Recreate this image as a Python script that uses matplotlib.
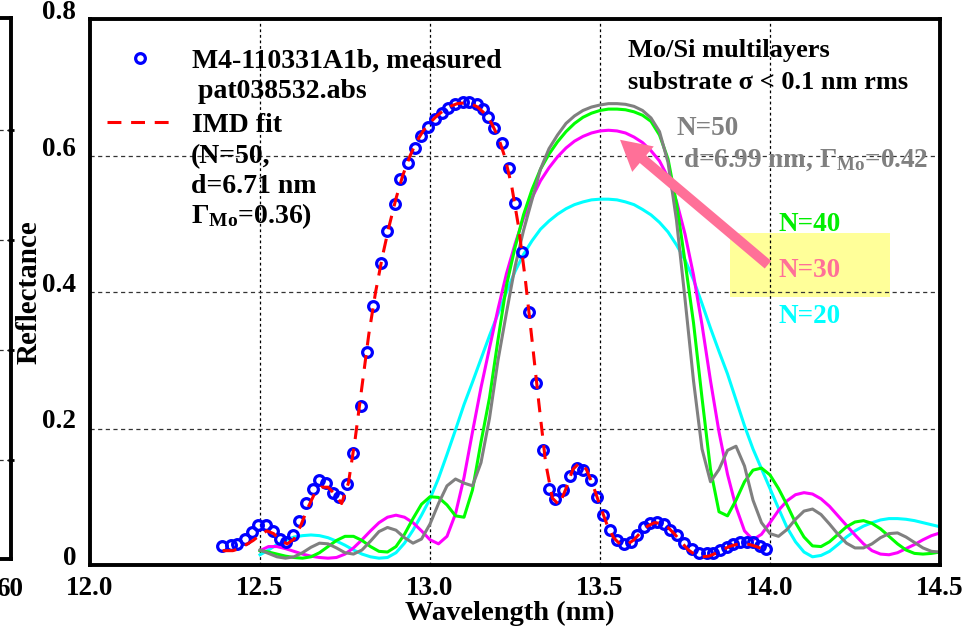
import matplotlib
matplotlib.use("Agg")
import matplotlib.pyplot as plt
import numpy as np
from matplotlib.legend_handler import HandlerLine2D
from matplotlib.patches import Rectangle

plt.rcParams["font.family"] = "Liberation Serif"
plt.rcParams["font.weight"] = "bold"
plt.rcParams["axes.labelweight"] = "bold"
plt.rcParams["mathtext.fontset"] = "custom"
plt.rcParams["mathtext.rm"] = "Liberation Serif:bold"
plt.rcParams["mathtext.it"] = "Liberation Serif:bold"
plt.rcParams["mathtext.bf"] = "Liberation Serif:bold"
plt.rcParams["lines.scale_dashes"] = False

# measured reflectance (M4-110331A1b)
meas_wl = [12.389, 12.414, 12.433, 12.456, 12.476, 12.495, 12.518, 12.537, 12.559, 12.576,
           12.598, 12.614, 12.635, 12.655, 12.674, 12.694, 12.714, 12.733, 12.755, 12.774,
           12.796, 12.816, 12.833, 12.855, 12.875, 12.897, 12.913, 12.934, 12.957, 12.973,
           12.993, 13.015, 13.034, 13.054, 13.074, 13.096, 13.116, 13.137, 13.155, 13.170,
           13.189, 13.213, 13.233, 13.250, 13.272, 13.292, 13.312, 13.331, 13.351, 13.368,
           13.392, 13.412, 13.431, 13.451, 13.473, 13.492, 13.510, 13.529, 13.551, 13.571,
           13.590, 13.610, 13.629, 13.647, 13.667, 13.688, 13.706, 13.727, 13.747, 13.770,
           13.792, 13.814, 13.833, 13.853, 13.873, 13.892, 13.912, 13.931, 13.951, 13.971,
           13.988]
meas_r = [0.028, 0.029, 0.031, 0.038, 0.049, 0.058, 0.058, 0.050, 0.038, 0.033,
          0.044, 0.065, 0.091, 0.112, 0.125, 0.120, 0.106, 0.100, 0.118, 0.164,
          0.233, 0.312, 0.379, 0.442, 0.489, 0.529, 0.565, 0.589, 0.611, 0.629,
          0.642, 0.653, 0.663, 0.670, 0.675, 0.679, 0.679, 0.675, 0.668, 0.657,
          0.641, 0.619, 0.581, 0.531, 0.459, 0.371, 0.266, 0.168, 0.111, 0.096,
          0.110, 0.130, 0.142, 0.139, 0.124, 0.099, 0.073, 0.051, 0.037, 0.031,
          0.034, 0.044, 0.055, 0.061, 0.063, 0.060, 0.052, 0.044, 0.032, 0.024,
          0.018, 0.017, 0.018, 0.022, 0.026, 0.031, 0.034, 0.034, 0.033, 0.028,
          0.023]

# IMD fit
fit_wl = [12.39, 12.42, 12.44, 12.46, 12.48, 12.50, 12.52, 12.54, 12.56, 12.58,
          12.60, 12.62, 12.64, 12.66, 12.68, 12.70, 12.72, 12.74, 12.76, 12.78,
          12.80, 12.82, 12.84, 12.86, 12.88, 12.90, 12.92, 12.94, 12.96, 12.98,
          13.00, 13.02, 13.04, 13.06, 13.08, 13.10, 13.12, 13.14, 13.16, 13.18,
          13.20, 13.22, 13.24, 13.26, 13.28, 13.30, 13.32, 13.34, 13.36, 13.38,
          13.40, 13.42, 13.44, 13.46, 13.48, 13.50, 13.52, 13.54, 13.56, 13.58,
          13.60, 13.62, 13.64, 13.66, 13.68, 13.70, 13.72, 13.74, 13.76, 13.78,
          13.80, 13.82, 13.84, 13.86, 13.88, 13.90, 13.92, 13.94, 13.96, 13.98]
fit_r = [0.021, 0.021, 0.024, 0.030, 0.036, 0.044, 0.050, 0.046, 0.036, 0.031,
         0.038, 0.058, 0.083, 0.104, 0.114, 0.114, 0.104, 0.090, 0.120, 0.185,
         0.262, 0.338, 0.400, 0.452, 0.497, 0.537, 0.571, 0.598, 0.620, 0.636,
         0.648, 0.658, 0.666, 0.672, 0.676, 0.677, 0.676, 0.671, 0.662, 0.648,
         0.628, 0.598, 0.556, 0.497, 0.420, 0.330, 0.238, 0.150, 0.098, 0.088,
         0.112, 0.140, 0.150, 0.140, 0.116, 0.087, 0.060, 0.040, 0.030, 0.030,
         0.037, 0.048, 0.057, 0.062, 0.061, 0.055, 0.045, 0.033, 0.022, 0.015,
         0.012, 0.013, 0.017, 0.022, 0.027, 0.030, 0.031, 0.030, 0.027, 0.023]

# calculated Mo/Si reflectance, d=6.99 nm, Gamma=0.42
calc_wl = np.linspace(12.5, 14.5, 81)
r_n20 = [0.015, 0.022, 0.030, 0.036, 0.041, 0.043, 0.044, 0.043, 0.040, 0.035,
         0.029, 0.022, 0.016, 0.012, 0.010, 0.011, 0.018, 0.032, 0.051, 0.073,
         0.097, 0.127, 0.162, 0.198, 0.235, 0.268, 0.302, 0.336, 0.368, 0.400,
         0.430, 0.455, 0.475, 0.492, 0.504, 0.514, 0.522, 0.528, 0.532, 0.535,
         0.536, 0.536, 0.535, 0.532, 0.528, 0.521, 0.513, 0.502, 0.488, 0.469,
         0.447, 0.418, 0.383, 0.347, 0.313, 0.280, 0.242, 0.204, 0.170, 0.141,
         0.112, 0.083, 0.055, 0.034, 0.019, 0.012, 0.014, 0.020, 0.030, 0.041,
         0.050, 0.057, 0.062, 0.066, 0.068, 0.068, 0.067, 0.065, 0.062, 0.059,
         0.056]
r_n30 = [0.021, 0.027, 0.027, 0.024, 0.020, 0.016, 0.013, 0.011, 0.010, 0.011,
         0.016, 0.025, 0.037, 0.050, 0.062, 0.070, 0.073, 0.070, 0.062, 0.050,
         0.037, 0.031, 0.042, 0.075, 0.128, 0.195, 0.260, 0.318, 0.375, 0.427,
         0.470, 0.508, 0.538, 0.563, 0.582, 0.598, 0.611, 0.621, 0.628, 0.633,
         0.636, 0.637, 0.636, 0.633, 0.627, 0.619, 0.607, 0.592, 0.568, 0.533,
         0.485, 0.425, 0.352, 0.270, 0.195, 0.133, 0.085, 0.050, 0.037, 0.045,
         0.062, 0.080, 0.094, 0.103, 0.106, 0.104, 0.097, 0.086, 0.072, 0.058,
         0.044, 0.031, 0.021, 0.016, 0.015, 0.018, 0.024, 0.030, 0.037, 0.043,
         0.047]
r_n40 = [0.021, 0.019, 0.016, 0.013, 0.011, 0.010, 0.012, 0.018, 0.027, 0.036,
         0.042, 0.042, 0.036, 0.027, 0.020, 0.019, 0.027, 0.045, 0.068, 0.089,
         0.100, 0.099, 0.088, 0.072, 0.070, 0.110, 0.180, 0.245, 0.330, 0.410,
         0.465, 0.513, 0.550, 0.580, 0.602, 0.620, 0.635, 0.647, 0.656, 0.662,
         0.666, 0.668, 0.668, 0.667, 0.664, 0.659, 0.650, 0.630, 0.595, 0.530,
         0.445, 0.355, 0.245, 0.140, 0.078, 0.072, 0.095, 0.122, 0.139, 0.142,
         0.132, 0.112, 0.088, 0.062, 0.041, 0.028, 0.027, 0.034, 0.045, 0.056,
         0.063, 0.065, 0.061, 0.053, 0.042, 0.031, 0.022, 0.017, 0.016, 0.017,
         0.019]
r_n50 = [0.022, 0.017, 0.012, 0.010, 0.012, 0.018, 0.026, 0.032, 0.031, 0.025,
         0.018, 0.016, 0.022, 0.035, 0.049, 0.055, 0.051, 0.040, 0.032, 0.038,
         0.060, 0.090, 0.116, 0.126, 0.120, 0.116, 0.150, 0.215, 0.300, 0.370,
         0.437, 0.490, 0.535, 0.580, 0.610, 0.630, 0.647, 0.658, 0.666, 0.671,
         0.674, 0.676, 0.676, 0.675, 0.672, 0.666, 0.655, 0.635, 0.590, 0.505,
         0.390, 0.270, 0.170, 0.122, 0.140, 0.168, 0.174, 0.145, 0.095, 0.062,
         0.046, 0.042, 0.052, 0.067, 0.079, 0.082, 0.074, 0.060, 0.045, 0.032,
         0.025, 0.025, 0.031, 0.040, 0.046, 0.047, 0.041, 0.033, 0.025, 0.020,
         0.019]

calc_curves = [("N=20", r_n20, "#00FFFF"), ("N=30", r_n30, "#FF00FF"),
               ("N=40", r_n40, "#00FF00"), ("N=50", r_n50, "#808080")]

x_ticks = [12.0, 12.5, 13.0, 13.5, 14.0, 14.5]
y_ticks = [0, 0.2, 0.4, 0.6, 0.8]
y_tick_labels = ["0", "0.2", "0.4", "0.6", "0.8"]

FS = 20
PINK = "#FF7098"


class _MarkerLeft(HandlerLine2D):
    """Legend handler that puts the marker near the left end of the key."""

    def get_xdata(self, legend, xdescent, ydescent, width, height, fontsize):
        xdata, _ = super().get_xdata(legend, xdescent, ydescent, width,
                                     height, fontsize)
        return xdata, [0.15 * width - xdescent]


fig = plt.figure(figsize=(9.65, 6.31), dpi=100)

# edge of a neighbouring panel, cut off at the left
lax = fig.add_axes([-0.3, 1 - 559 / 631, 0.3 + 11 / 965, 541 / 631])
lax.set_xlim(0, 1)
lax.set_ylim(0.1, 5.02)
lax.set_yticks([1, 2, 3, 4])
lax.set_xticks([])
lax.yaxis.tick_right()
lax.tick_params(axis="y", direction="inout", length=5, width=2,
                labelright=False)
lax.yaxis.grid(True, ls=(0, (3, 2.5)), color="#333333", lw=0.9)
for s in lax.spines.values():
    s.set_linewidth(2.8)
fig.text(10 / 965, 1 - 590 / 631, "60", ha="center", va="center",
         fontsize=19.5)

ax = fig.add_axes([90 / 965, 1 - 565 / 631, 850 / 965, 546 / 631])

for lbl, r, col in calc_curves:
    ax.plot(calc_wl, r, color=col, lw=2.2, zorder=3)

meas_line, = ax.plot(meas_wl, meas_r, "o", ms=7, mfc="none", mec="#0000FF",
                     mew=2.3, zorder=4, label="M4-110331A1b, measured")
fit_line, = ax.plot(fit_wl, fit_r, color="#FF0000", lw=2.2,
                    dashes=(10, 7), zorder=5, label="IMD fit")

ax.set_xlim(12.0, 14.5)
ax.set_ylim(0, 0.8)
ax.set_xticks(x_ticks, [f"{v:.1f}" for v in x_ticks])
ax.set_yticks(y_ticks, y_tick_labels)
plt.setp(ax.get_yticklabels(), va="baseline")
ax.tick_params(length=0, labelsize=19.5)
ax.tick_params(axis="y", pad=10)
ax.tick_params(axis="x", pad=8)
ax.xaxis.grid(True, ls=(0, (2, 2)), color="k", lw=0.9)
ax.yaxis.grid(True, ls=(0, (3, 2.5)), color="#333333", lw=0.9)
for s in ax.spines.values():
    s.set_linewidth(2.8)
    s.set_zorder(6)

ax.set_xlabel("Wavelength (nm)", fontsize=20.5, fontweight="bold")
ax.xaxis.set_label_coords(0.494, -0.066)
ax.set_ylabel("Reflectance", fontsize=21, fontweight="bold")
ax.yaxis.set_label_coords(-0.056, 0.5)

leg = ax.legend(handles=[meas_line, fit_line], loc="upper left",
                bbox_to_anchor=(0.02, 0.946), frameon=False, fontsize=FS,
                borderpad=0, borderaxespad=0, handlelength=2.4,
                handletextpad=0.65, labelspacing=1.38,
                handler_map={meas_line: _MarkerLeft()})

ax.text(12.296, 0.684, " pat038532.abs", fontsize=FS, va="baseline")
ax.text(12.296, 0.5895, "(N=50,", fontsize=FS, va="baseline")
ax.text(12.296, 0.5455, "d=6.71 nm", fontsize=FS, va="baseline")
ax.text(12.296, 0.5007, r"$\Gamma_{\mathrm{Mo}}$=0.36)", fontsize=FS,
        va="baseline")

ax.text(13.582, 0.745, "Mo/Si multilayers", fontsize=19, va="baseline")
ax.text(13.582, 0.698, "substrate σ < 0.1 nm rms", fontsize=19,
        va="baseline")
ax.text(13.726, 0.630, "N=50", fontsize=19.5, color="#808080", va="baseline")
ax.text(13.744, 0.584, r"d=6.99 nm, $\Gamma_{\mathrm{Mo}}$=0.42", fontsize=19.5,
        color="#808080", va="baseline")

ax.add_patch(Rectangle((13.882, 0.393), 0.471, 0.093, fc="#FFFF99",
                       ec="none", zorder=1))
ax.text(14.024, 0.490, "N=40", fontsize=19.5, color="#00EE00", va="baseline",
        zorder=7)
ax.text(14.024, 0.422, "N=30", fontsize=19.5, color=PINK, va="baseline",
        zorder=7)
ax.text(14.024, 0.354, "N=20", fontsize=19.5, color="#00FFFF", va="baseline",
        zorder=7)
ax.annotate("", xy=(13.559, 0.623), xytext=(13.994, 0.44),
            arrowprops=dict(arrowstyle="simple,head_length=0.9,head_width=1.0,"
                                       "tail_width=0.3",
                            mutation_scale=24, fc=PINK, ec=PINK, lw=0,
                            shrinkA=0, shrinkB=0), zorder=8)

fig.savefig("out.png", dpi=100)
